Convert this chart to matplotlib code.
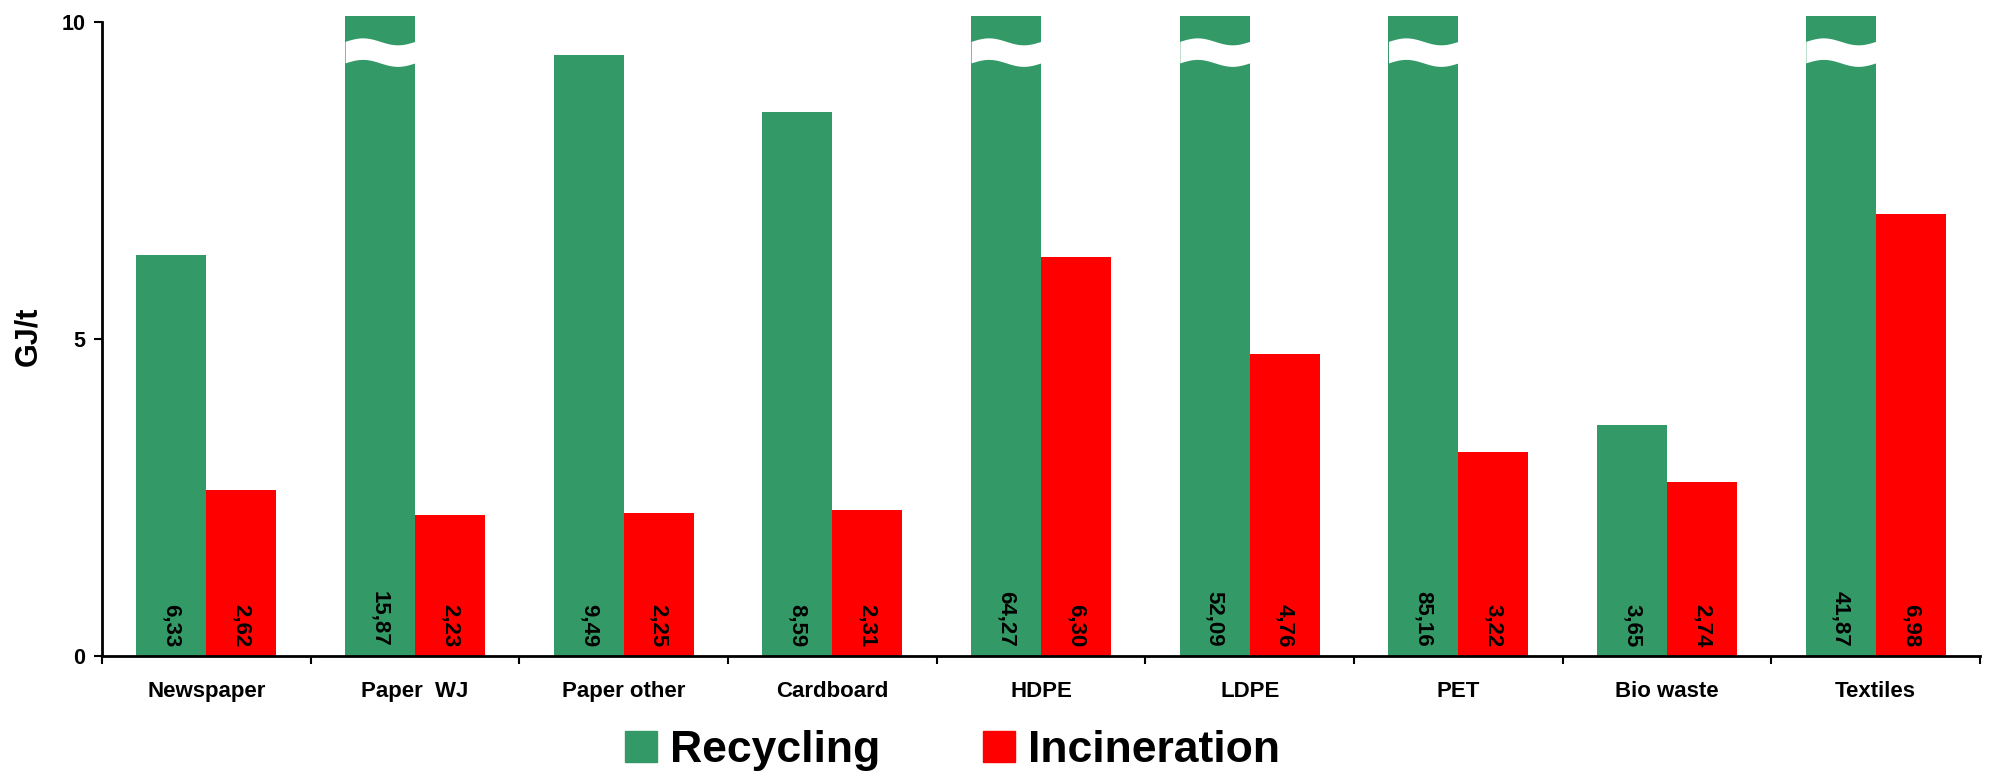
import numpy as np
import matplotlib
matplotlib.use("Agg")
import matplotlib.pyplot as plt
from matplotlib.patches import Patch

categories = ["Newspaper", "Paper  WJ", "Paper other", "Cardboard", "HDPE",
              "LDPE", "PET", "Bio waste", "Textiles"]
recycling = [6.33, 15.87, 9.49, 8.59, 64.27, 52.09, 85.16, 3.65, 41.87]
incineration = [2.62, 2.23, 2.25, 2.31, 6.30, 4.76, 3.22, 2.74, 6.98]

GREEN = "#339966"
RED = "#ff0000"

plt.rcParams["font.family"] = ["Liberation Sans", "DejaVu Sans"]
plt.rcParams["font.weight"] = "bold"

fig = plt.figure(figsize=(19.89, 7.73), dpi=100)
ax = fig.add_axes([0.0513, 0.1514, 0.9442, 0.8279])

x = np.arange(len(categories))
w = 0.335
y_top = 10.1

ax.bar(x - w / 2, recycling, w, color=GREEN)
ax.bar(x + w / 2, incineration, w, color=RED)

# wavy break mark on bars that run past the top of the scale
t = np.linspace(0, 1, 60)
for xi, v in zip(x, recycling):
    if v > y_top:
        xs = xi - w + t * w
        wave = 0.055 * np.sin(2 * np.pi * t)
        ax.fill_between(xs, 9.36 + wave, 9.70 + wave, color="white", lw=0, zorder=3)

# value labels, written vertically near the base of each bar
for xi, v in zip(x, recycling):
    ax.text(xi - w / 2, 0.14, f"{v:.2f}".replace(".", ","), rotation=270,
            ha="center", va="bottom", fontsize=16, fontweight="bold", zorder=4)
for xi, v in zip(x, incineration):
    ax.text(xi + w / 2, 0.14, f"{v:.2f}".replace(".", ","), rotation=270,
            ha="center", va="bottom", fontsize=16, fontweight="bold", zorder=4)

ax.set_xlim(-0.5, len(categories) - 0.5)
ax.set_ylim(0, y_top)

for s in ["top", "right"]:
    ax.spines[s].set_visible(False)
ax.spines["left"].set_bounds(0, 10)
ax.spines["left"].set_linewidth(2)
ax.spines["bottom"].set_linewidth(2)

ax.set_yticks([0, 5, 10])
ax.tick_params(axis="y", length=6, width=1.5, labelsize=15.5, pad=6)

ax.set_xticks(x)
ax.set_xticklabels(categories)
ax.set_xticks(np.arange(-0.5, len(categories)), minor=True)
ax.tick_params(axis="x", which="major", length=0, labelsize=16, pad=18)
ax.tick_params(axis="x", which="minor", length=6, width=1.5, direction="out")

ax.set_ylabel("GJ/t", fontsize=22, fontweight="bold", labelpad=13)

handles = [Patch(color=GREEN, label="Recycling"), Patch(color=RED, label="Incineration")]
fig.legend(handles=handles, loc="center", bbox_to_anchor=(0.479, 0.029), ncol=2,
           frameon=False, handlelength=0.72, handleheight=0.72, handletextpad=0.3,
           columnspacing=2.3, borderpad=0.1,
           prop={"weight": "bold", "size": 32})

fig.savefig("out.png", dpi=100)
